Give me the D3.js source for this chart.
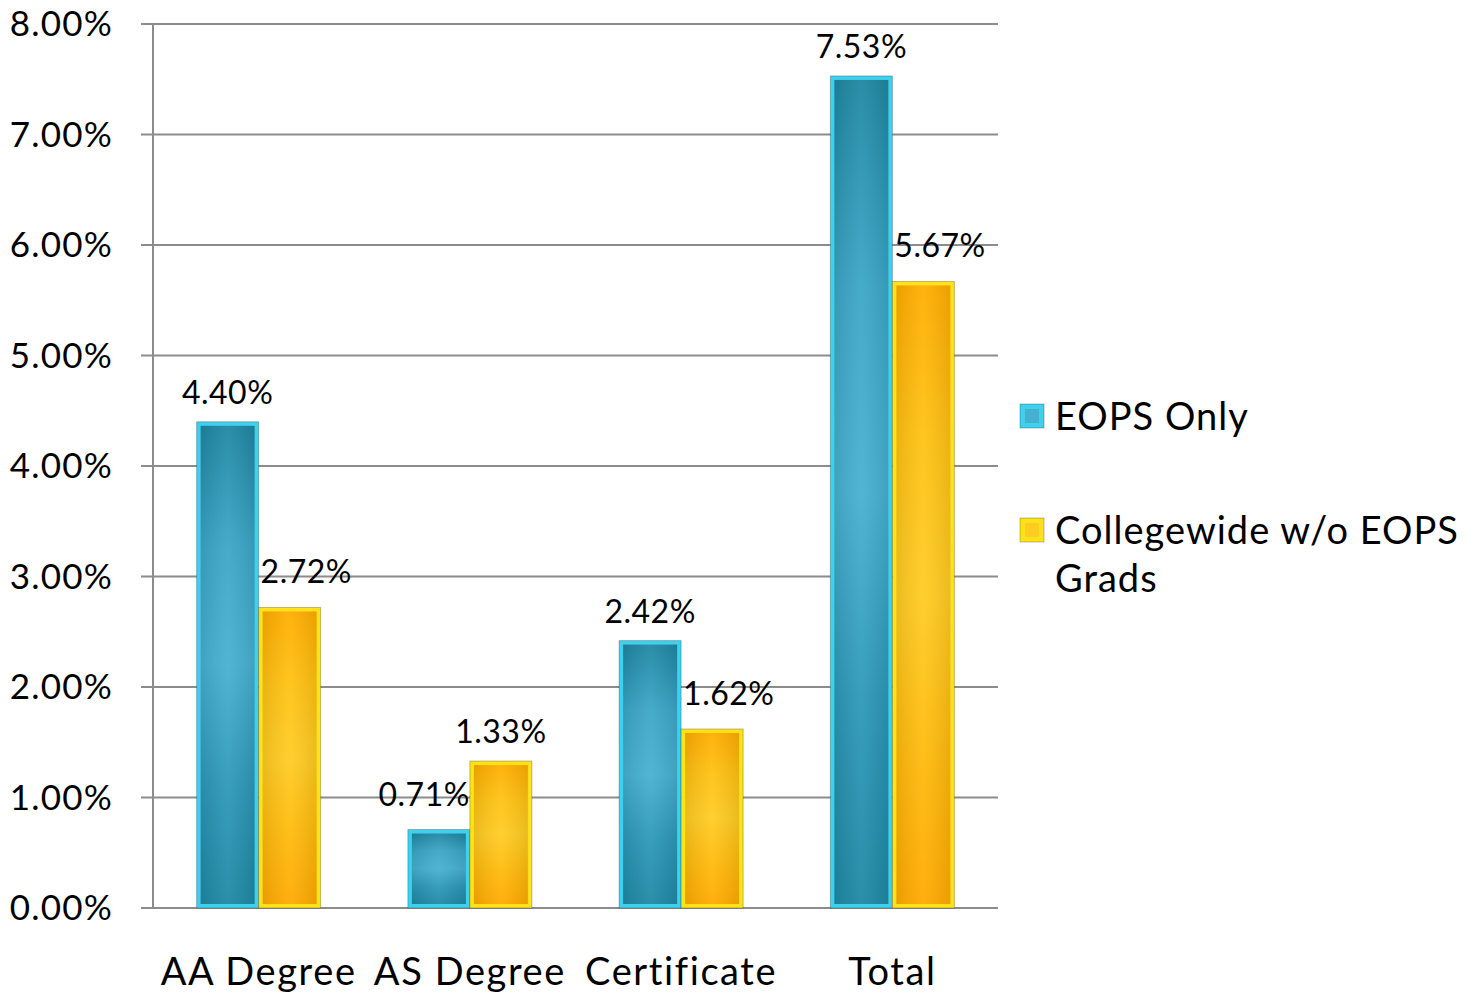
<!DOCTYPE html>
<html>
<head>
<meta charset="utf-8">
<script src="https://cdn.jsdelivr.net/npm/d3@7"></script>
<style>
  body { margin: 0; background: #fff; }
  text { font-family: Lato, "Open Sans", sans-serif; fill: #000; }
</style>
</head>
<body>
<svg width="1469" height="997"></svg>
<script>
var categories = ["AA Degree", "AS Degree", "Certificate", "Total"];
var seriesNames = ["EOPS Only", "Collegewide w/o EOPS Grads"];
var eopsOnly = [4.40, 0.71, 2.42, 7.53];
var collegewide = [2.72, 1.33, 1.62, 5.67];
var yTicks = [0, 1, 2, 3, 4, 5, 6, 7, 8];

var svg = d3.select("svg"),
    margin = {top: 24, right: 471, bottom: 89, left: 153},
    width = +svg.attr("width") - margin.left - margin.right,
    height = +svg.attr("height") - margin.top - margin.bottom,
    g = svg.append("g").attr("transform", "translate(" + margin.left + "," + margin.top + ")");

var defs = svg.append("defs");

// bar styles: edge colour + vertical gradient for the face
var styles = [
  {edge: "#3fd0ee", stops: ["#1e86a2", "#3aa6c6", "#46b0d0", "#2b98b8", "#1e88a4"]},
  {edge: "#ffe21a", stops: ["#ffad00", "#ffc212", "#ffcc22", "#ffbb0c", "#ffaa00"]}
];
styles.forEach(function(s, i) {
  var grad = defs.append("linearGradient")
      .attr("id", "grad" + i)
      .attr("x1", 0).attr("y1", 0).attr("x2", 0).attr("y2", 1);
  s.stops.forEach(function(c, j) {
    grad.append("stop").attr("offset", (j / (s.stops.length - 1))).attr("stop-color", c);
  });
  var hgrad = defs.append("linearGradient")
      .attr("id", "hgrad" + i)
      .attr("x1", 0).attr("y1", 0).attr("x2", 1).attr("y2", 0);
  hgrad.append("stop").attr("offset", 0).attr("stop-color", "#000").attr("stop-opacity", 0.08);
  hgrad.append("stop").attr("offset", 0.5).attr("stop-color", "#fff").attr("stop-opacity", 0.06);
  hgrad.append("stop").attr("offset", 1).attr("stop-color", "#000").attr("stop-opacity", 0.08);
});

var x0 = d3.scaleBand()
    .domain(categories)
    .range([0, width])
    .paddingInner(0.413)
    .paddingOuter(0.2065);

var x1 = d3.scaleBand()
    .domain([0, 1])
    .range([0, x0.bandwidth()]);

var y = d3.scaleLinear()
    .domain([0, 8])
    .range([height, 0]);

// gridlines
g.append("g")
  .selectAll("line")
  .data(yTicks)
  .enter().append("line")
    .attr("x1", -12)
    .attr("x2", width)
    .attr("y1", function(d) { return y(d); })
    .attr("y2", function(d) { return y(d); })
    .attr("stroke", "#8c8c8c")
    .attr("stroke-width", 2);

// y axis line
g.append("line")
    .attr("x1", 0).attr("x2", 0)
    .attr("y1", y(8)).attr("y2", y(0))
    .attr("stroke", "#8c8c8c")
    .attr("stroke-width", 2);

// y tick labels
g.append("g")
  .selectAll("text")
  .data(yTicks)
  .enter().append("text")
    .attr("x", -40)
    .attr("y", function(d) { return y(d); })
    .attr("dy", "0.35em")
    .attr("text-anchor", "end")
    .attr("font-size", "35px")
    .attr("letter-spacing", "1.2px")
    .text(function(d) { return d.toFixed(2) + "%"; });

// x labels
g.append("g")
  .selectAll("text")
  .data(categories)
  .enter().append("text")
    .attr("x", function(d) { return x0(d) + x0.bandwidth() / 2; })
    .attr("y", height + 77)
    .attr("text-anchor", "middle")
    .attr("font-size", "38px")
    .attr("letter-spacing", "1.6px")
    .text(function(d) { return d; });

var rows = categories.map(function(c, i) {
  return {cat: c, vals: [eopsOnly[i], collegewide[i]]};
});

var groups = g.selectAll(".cat")
  .data(rows)
  .enter().append("g")
    .attr("class", "cat")
    .attr("transform", function(d) { return "translate(" + x0(d.cat) + ",0)"; });

var bars = groups.selectAll(".bar")
  .data(function(d) { return d.vals.map(function(v, s) { return {v: v, s: s, other: d.vals[1 - s]}; }); })
  .enter().append("g")
    .attr("class", "bar");

function drawBar(sel) {
  var e = 4;
  sel.append("rect")
      .attr("x", function(d) { return x1(d.s); })
      .attr("y", function(d) { return y(d.v); })
      .attr("width", x1.bandwidth())
      .attr("height", function(d) { return height - y(d.v); })
      .attr("fill", function(d) { return styles[d.s].edge; })
      .attr("stroke", "rgba(0,0,0,0.25)")
      .attr("stroke-width", 1);
  sel.append("rect")
      .attr("x", function(d) { return x1(d.s) + e; })
      .attr("y", function(d) { return y(d.v) + e; })
      .attr("width", x1.bandwidth() - 2 * e)
      .attr("height", function(d) { return Math.max(0, height - y(d.v) - 2 * e); })
      .attr("fill", function(d) { return "url(#grad" + d.s + ")"; });
  sel.append("rect")
      .attr("x", function(d) { return x1(d.s) + e; })
      .attr("y", function(d) { return y(d.v) + e; })
      .attr("width", x1.bandwidth() - 2 * e)
      .attr("height", function(d) { return Math.max(0, height - y(d.v) - 2 * e); })
      .attr("fill", function(d) { return "url(#hgrad" + d.s + ")"; });
}
bars.call(drawBar);

// value labels; shift away from a taller neighbour
bars.append("text")
    .attr("font-size", "32px")
    .attr("letter-spacing", "0.5px")
    .attr("y", function(d) { return y(d.v) - (d.other > d.v ? 24 : 18); })
    .attr("x", function(d) {
      if (d.other > d.v) return d.s === 1 ? x1(d.s) + 2 : x1(d.s) + x1.bandwidth();
      return x1(d.s) + x1.bandwidth() / 2;
    })
    .attr("text-anchor", function(d) {
      if (d.other > d.v) return d.s === 1 ? "start" : "end";
      return "middle";
    })
    .text(function(d) { return d.v.toFixed(2) + "%"; });

// legend
var legend = svg.append("g").attr("transform", "translate(1020,404)");
var legendRows = [
  {lines: ["EOPS Only"], y: 0},
  {lines: ["Collegewide w/o EOPS", "Grads"], y: 114}
];
legendRows.forEach(function(r, i) {
  var it = legend.append("g").attr("transform", "translate(0," + r.y + ")");
  it.append("rect")
      .attr("width", 24).attr("height", 24)
      .attr("fill", styles[i].edge)
      .attr("stroke", "rgba(0,0,0,0.25)");
  it.append("rect")
      .attr("x", 5).attr("y", 5)
      .attr("width", 14).attr("height", 14)
      .attr("fill", styles[i].stops[2]);
  var t = it.append("text")
      .attr("x", 35)
      .attr("y", 26)
      .attr("font-size", "38px")
      .attr("letter-spacing", "1px");
  r.lines.forEach(function(l, k) {
    t.append("tspan").attr("x", 35).attr("dy", k === 0 ? 0 : 48).text(l);
  });
});
</script>
</body>
</html>
